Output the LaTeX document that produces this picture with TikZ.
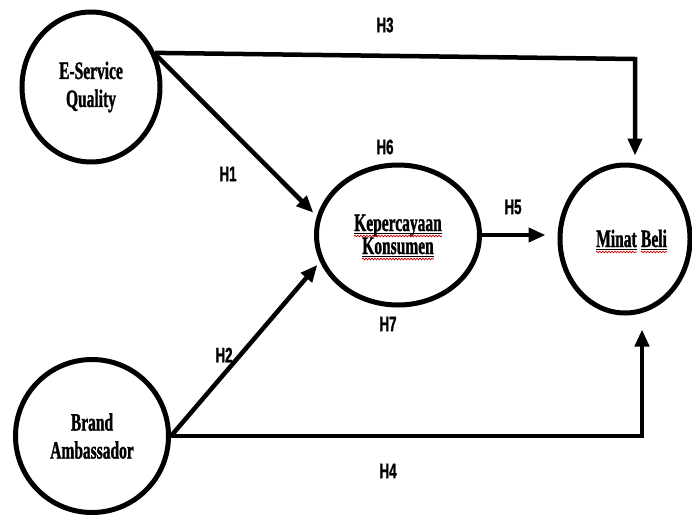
\documentclass[tikz,border=0pt]{standalone}
\usepackage{fontspec}
\setmainfont{Liberation Serif}
\newfontfamily\condserif[FakeStretch=0.62,BoldFeatures={FakeBold=1.2}]{Liberation Serif}
\newfontfamily\condsans[FakeStretch=0.64,BoldFeatures={FakeBold=1.2}]{Liberation Sans}
\usetikzlibrary{arrows.meta,shapes.geometric,decorations.pathmorphing}
\begin{document}
\begin{tikzpicture}[x=1pt,y=-1pt,
  construct/.style={ellipse,draw,line width=5pt,inner sep=0pt,align=center,
    font=\condserif\bfseries\fontsize{25}{30}\selectfont},
  conn/.style={line width=4.5pt,-{Triangle[length=17pt,width=14pt]}},
  hlabel/.style={font=\condsans\bfseries\fontsize{21}{22}\selectfont,inner sep=0pt},
  wordtxt/.style={font=\condserif\bfseries\fontsize{25}{30}\selectfont,inner sep=0pt},
  blackul/.style={line width=1pt},
  redwave/.style={red!80!black,line width=0.7pt,decorate,
    decoration={snake,amplitude=0.8pt,segment length=3pt}}]
\useasboundingbox (0,0) rectangle (692,514);

% constructs
\node[construct,minimum width=138pt,minimum height=150pt] (esq) at (91,87) {E-Service\\[-2pt]Quality};
\node[construct,minimum width=153pt,minimum height=153pt] (ba) at (92,436) {Brand\\[-2pt]Ambassador};
\node[construct,minimum width=163pt,minimum height=140pt] (kk) at (398,235) {};
\node[construct,minimum width=130pt,minimum height=148pt] (mb) at (625,239) {};

% underlined words
\node[wordtxt,anchor=base] (w1) at (398,231) {Kepercayaan};
\node[wordtxt,anchor=base] (w2) at (398,254) {Konsumen};
\node[wordtxt,anchor=base west] (w3) at (596,247) {Minat};
\node[wordtxt,anchor=base west] (w4) at ([xshift=4pt]w3.base east) {Beli};
\foreach \w in {w1,w2,w3,w4}{
  \draw[blackul] ([yshift=-2pt]\w.base west) -- ([yshift=-2pt]\w.base east);
  \draw[redwave] ([yshift=-5pt]\w.base west) -- ([yshift=-5pt]\w.base east);
}

% connectors
\coordinate (h3c) at (635,59);
\draw[conn] (esq.28) -- (h3c) -- ([yshift=7pt]h3c |- mb.north);
\draw[conn,shorten >=5pt] (esq.26) -- (kk.167);
\draw[conn,shorten >=4pt] (ba.east) -- (kk.199);
\coordinate (h4c) at (642,434);
\draw[conn] (ba.east) -- (ba.east -| h4c) -- ([yshift=-14pt]h4c |- mb.south);
\draw[conn,shorten >=12pt] (kk.east) -- (kk.east -| mb.west);

% labels
\node[hlabel] (lh3) at (385,25) {H3};
\node[hlabel] (lh6) at (385,147) {H6};
\node[hlabel] (lh1) at (228,174) {H1};
\node[hlabel] (lh5) at (513,207) {H5};
\node[hlabel] (lh7) at (388,324) {H7};
\node[hlabel] (lh2) at (224,355) {H2};
\node[hlabel] (lh4) at (388,471) {H4};
\end{tikzpicture}
\end{document}
